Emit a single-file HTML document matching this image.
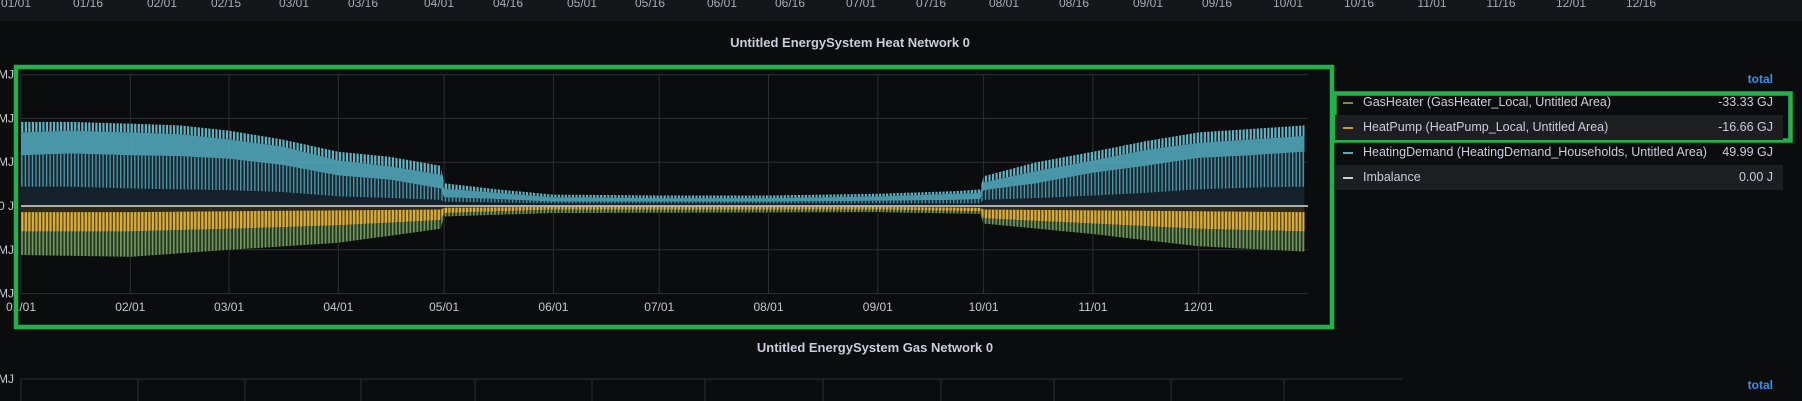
<!DOCTYPE html>
<html><head><meta charset="utf-8">
<style>
html,body{margin:0;padding:0;background:#0b0c0e;}
#root{position:relative;width:1802px;height:401px;overflow:hidden;background:#0b0c0e;font-family:"Liberation Sans",sans-serif;}
svg{position:absolute;left:0;top:0;}
.lg{position:absolute;left:1335px;width:448px;height:25px;font-size:12.5px;color:#ccccdc;line-height:25px;}
.lg .dash{position:absolute;left:8px;top:12px;width:10px;height:2px;}
.lg .nm{position:absolute;left:28px;}
.lg .vl{position:absolute;right:10px;}
</style></head>
<body>
<div id="root">
<svg id="svg" width="1802" height="401">
<defs>
<pattern id="stripeC" patternUnits="userSpaceOnUse" width="3.53" height="10"><rect x="0" y="0" width="1.4" height="10" fill="#5cb9cc" fill-opacity="0.75"/></pattern>
<pattern id="stripeC2" patternUnits="userSpaceOnUse" width="3.53" height="10"><rect x="0" y="0" width="2.2" height="10" fill="#6cc6d8" fill-opacity="0.9"/></pattern>
<pattern id="stripeG" patternUnits="userSpaceOnUse" width="3.53" height="10"><rect x="0" y="0" width="1.6" height="10" fill="#7fae66" fill-opacity="0.85"/></pattern>
<pattern id="stripeY" patternUnits="userSpaceOnUse" width="3.53" height="10"><rect x="0" y="0" width="2.2" height="10" fill="#e0b23c" fill-opacity="0.95"/></pattern>
</defs>
<rect x="0" y="0" width="1802" height="21" fill="#15161a"/>
<g id="topAxis"></g>
<text x="850" y="47" text-anchor="middle" fill="#ccccdc" font-size="13" font-weight="bold">Untitled EnergySystem Heat Network 0</text>
<g id="grid"></g>
<g id="marks"></g>
<g id="xlabels"></g>
<text x="875" y="352" text-anchor="middle" fill="#ccccdc" font-size="13" font-weight="bold">Untitled EnergySystem Gas Network 0</text>
<g id="grid2"></g>
<text x="1773" y="389" text-anchor="end" fill="#3d8ee8" font-size="12" font-weight="bold">total</text>
<rect x="16" y="67" width="1316" height="260" fill="none" stroke="#22b14c" stroke-width="4.5"/>
<rect x="1334.5" y="93.5" width="456" height="47" fill="none" stroke="#22b14c" stroke-width="4.5"/>
</svg>
<div style="position:absolute;left:1700px;top:72px;width:73px;text-align:right;font-size:12px;font-weight:bold;color:#3d8ee8;">total</div>
<div class="lg" style="top:90px;"><span class="dash" style="background:#6f8f4e"></span><span class="nm">GasHeater (GasHeater_Local, Untitled Area)</span><span class="vl">-33.33 GJ</span></div>
<div class="lg" style="top:115px;background:#1d1e22;"><span class="dash" style="background:#c59b36"></span><span class="nm">HeatPump (HeatPump_Local, Untitled Area)</span><span class="vl">-16.66 GJ</span></div>
<div class="lg" style="top:140px;"><span class="dash" style="background:#5aa9bd"></span><span class="nm">HeatingDemand (HeatingDemand_Households, Untitled Area)</span><span class="vl">49.99 GJ</span></div>
<div class="lg" style="top:165px;background:#1d1e22;"><span class="dash" style="background:#cfcfcf"></span><span class="nm">Imbalance</span><span class="vl">0.00 J</span></div>
</div>
<script>
// ---- data ----
const monthLabels = ["01/01","02/01","03/01","04/01","05/01","06/01","07/01","08/01","09/01","10/01","11/01","12/01"];
const monthDays = [0,31,59,90,120,151,181,212,243,273,304,334];
const topLabels = ["01/01","01/16","02/01","02/15","03/01","03/16","04/01","04/16","05/01","05/16","06/01","06/16","07/01","07/16","08/01","08/16","09/01","09/16","10/01","10/16","11/01","11/16","12/01","12/16"];
const yTicks = [150,100,50,0,-50,-100];
const yTickLabels = ["MJ","MJ","MJ","0 J","MJ","MJ"];
// heating demand (MJ): peak, band top, band bottom, trough
const hdDays   = [0,14,31,45,59,74,90,105,119,120,135,151,181,212,243,265,272,273,288,304,319,334,349,364];
const hdPeak   = [96,96,94,92,86,76,62,56,46,26,19,13,12,12,14,17,19,34,50,62,74,84,88,92];
const hdTop    = [84,86,84,82,76,68,52,45,36,20,15,10,9,9,11,14,15,27,40,52,64,72,76,80];
const hdLow    = [58,60,58,57,54,47,35,30,20,10,8,5,5,5,6,7,8,18,26,38,46,55,58,62];
const hdTrough = [22,22,20,19,18,16,11,9,7,5,4,3,3,3,3,3,3,7,9,12,15,19,21,22];
// heat pump (MJ)
const hpDays = [0,31,59,90,119,120,151,243,272,273,304,334,364];
const hpTop  = [-7,-7,-6,-5,-4,-2,-1,-1,-2,-4,-5,-6,-7];
const hpBot  = [-29,-29,-26,-22,-16,-8,-4,-4,-6,-14,-20,-26,-29];
// gas heater bottom (MJ)
const ghBot  = [-56,-58,-50,-42,-26,-12,-8,-7,-9,-20,-32,-46,-52];
// ---- axes ----
const X0=21, X1=1308, Y0=206, PXPER=43.8/50;
function x(d){return X0+d*(X1-X0)/365;}
function y(v){return Y0-v*PXPER;}
const NS="http://www.w3.org/2000/svg";
function mk(tag,attrs,parent){const e=document.createElementNS(NS,tag);for(const k in attrs)e.setAttribute(k,attrs[k]);parent.appendChild(e);return e;}
const grid=document.getElementById('grid'),marks=document.getElementById('marks'),xl=document.getElementById('xlabels'),ta=document.getElementById('topAxis'),g2=document.getElementById('grid2');
const topX=[16,88,162,226,294,363,439,508,582,650,722,790,861,931,1004,1074,1148,1217,1288,1359,1432,1501,1571,1641];
topLabels.forEach((t,i)=>{const e=mk('text',{x:topX[i],y:7,'text-anchor':'middle',fill:'#a9abb3','font-size':12},ta);e.textContent=t;

});
yTicks.forEach((v,i)=>{const l=mk('line',{x1:X0,x2:X1,y1:y(v),y2:y(v),stroke:'#2d2e33','stroke-width':1},grid);


const t=mk('text',{x:14,y:y(v)+4,'text-anchor':'end',fill:'#c8c9cf','font-size':12},grid);t.textContent=yTickLabels[i];

});
monthDays.forEach((d,i)=>{const l=mk('line',{x1:x(d),x2:x(d),y1:y(150),y2:y(-100),stroke:'#2d2e33','stroke-width':1},grid);


const t=mk('text',{x:x(d),y:311,'text-anchor':'middle',fill:'#c8c9cf','font-size':12},xl);t.textContent=monthLabels[i];

});
function band(days,up,lo){let p=days.map((d,i)=>x(d)+','+y(up[i]));let q=days.map((d,i)=>x(d)+','+y(lo[i])).reverse();return p.concat(q).join(' ');}
const zeros=hdDays.map(()=>0), zh=hpDays.map(()=>0);
let e;
e=mk('polygon',{points:band(hdDays,hdTrough,zeros),fill:'#14202a'},marks);


e=mk('polygon',{points:band(hdDays,hdLow,hdTrough),fill:'#172630'},marks);


e=mk('polygon',{points:band(hdDays,hdLow,hdTrough),fill:'url(#stripeC)'},marks);


e=mk('polygon',{points:band(hdDays,hdPeak,hdTop),fill:'url(#stripeC2)'},marks);


e=mk('polygon',{points:band(hdDays,hdTop,hdLow),fill:'#55afc3','fill-opacity':0.85},marks);


e=mk('polygon',{points:band(hpDays,zh,hpTop),fill:'#2c2a1c'},marks);


e=mk('polygon',{points:band(hpDays,hpBot,ghBot),fill:'#263523'},marks);


e=mk('polygon',{points:band(hpDays,hpBot,ghBot),fill:'url(#stripeG)'},marks);


e=mk('polygon',{points:band(hpDays,hpTop,hpBot),fill:'#5a4a22'},marks);


e=mk('polygon',{points:band(hpDays,hpTop,hpBot),fill:'url(#stripeY)'},marks);


e=mk('line',{x1:X0,x2:X1,y1:y(0),y2:y(0),stroke:'#d9d9d9','stroke-width':1.5},marks);


const g2x=[21,138,245,361,475,592,705,823,941,1054,1171,1284];
e=mk('line',{x1:21,x2:1402,y1:379,y2:379,stroke:'#2d2e33'},g2);


g2x.forEach(xx=>{const l=mk('line',{x1:xx,x2:xx,y1:379,y2:401,stroke:'#2d2e33'},g2);

});
e=mk('text',{x:14,y:383,'text-anchor':'end',fill:'#c8c9cf','font-size':12},g2);e.textContent='MJ';


</script>
</body></html>
